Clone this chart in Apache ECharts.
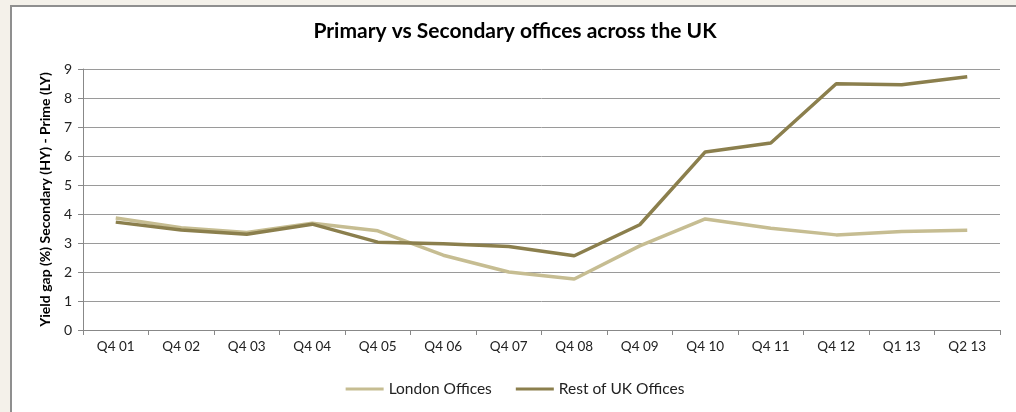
<!DOCTYPE html>
<html><head><meta charset="utf-8">
<script src="https://cdn.jsdelivr.net/npm/echarts@6/dist/echarts.min.js"></script>
<style>
html,body{margin:0;padding:0;background:#f4f1ea;width:1016px;height:412px;overflow:hidden;}
#frame{position:absolute;left:10px;top:5px;width:1006px;height:407px;background:#fff;border-left:2px solid #8f8f8f;border-top:2px solid #8f8f8f;}
#c{width:1006px;height:407px;}
</style></head><body>
<div id="frame"><div id="c"></div></div>
<script>
const categories = ['Q4 01','Q4 02','Q4 03','Q4 04','Q4 05','Q4 06','Q4 07','Q4 08','Q4 09','Q4 10','Q4 11','Q4 12','Q1 13','Q2 13'];
const londonOffices = [3.86,3.53,3.36,3.68,3.42,2.58,2.0,1.76,2.9,3.83,3.51,3.28,3.4,3.44];
const restOfUKOffices = [3.72,3.45,3.3,3.65,3.03,2.97,2.88,2.56,3.63,6.14,6.45,8.49,8.46,8.73];
const yTicks = [0,1,2,3,4,5,6,7,8,9];

const font = 'Lato, "Open Sans", sans-serif';
const chart = echarts.init(document.getElementById('c'));
chart.setOption({
  animation:false,
  title:{text:'Primary vs Secondary offices across the UK',left:'center',top:9,
    textStyle:{fontFamily:font,fontSize:21,fontWeight:'bold',color:'#000'}},
  legend:{bottom:12,left:'center',itemWidth:38,itemHeight:3,itemGap:24,icon:'rect',
    textStyle:{fontFamily:font,fontSize:15.5,color:'#222'},
    data:['London Offices','Rest of UK Offices']},
  grid:{left:71,right:18,top:62,bottom:84},
  xAxis:{type:'category',data:categories,boundaryGap:true,
    axisLine:{lineStyle:{color:'#888',width:1}},
    axisTick:{show:true,length:5,lineStyle:{color:'#888'}},
    axisLabel:{fontFamily:font,fontSize:13.5,color:'#222',margin:10}},
  yAxis:{type:'value',min:yTicks[0],max:yTicks[yTicks.length-1],interval:1,
    name:'Yield gap (%) Secondary (HY) - Prime (LY)',nameLocation:'middle',nameGap:31,
    nameTextStyle:{fontFamily:font,fontSize:14,fontWeight:'bold',color:'#000'},
    axisLine:{show:true,lineStyle:{color:'#888'}},
    axisTick:{show:true,length:5,lineStyle:{color:'#888'}},
    axisLabel:{fontFamily:font,fontSize:14,color:'#222',margin:11},
    splitLine:{lineStyle:{color:'#9a9a9a',width:1}}},
  series:[
    {name:'London Offices',type:'line',data:londonOffices,symbol:'none',
      lineStyle:{color:'#c6bd92',width:3.5},itemStyle:{color:'#c6bd92'},z:2},
    {name:'Rest of UK Offices',type:'line',data:restOfUKOffices,symbol:'none',
      lineStyle:{color:'#8b7f4d',width:3.5},itemStyle:{color:'#8b7f4d'},z:3}
  ]
});
</script></body></html>
